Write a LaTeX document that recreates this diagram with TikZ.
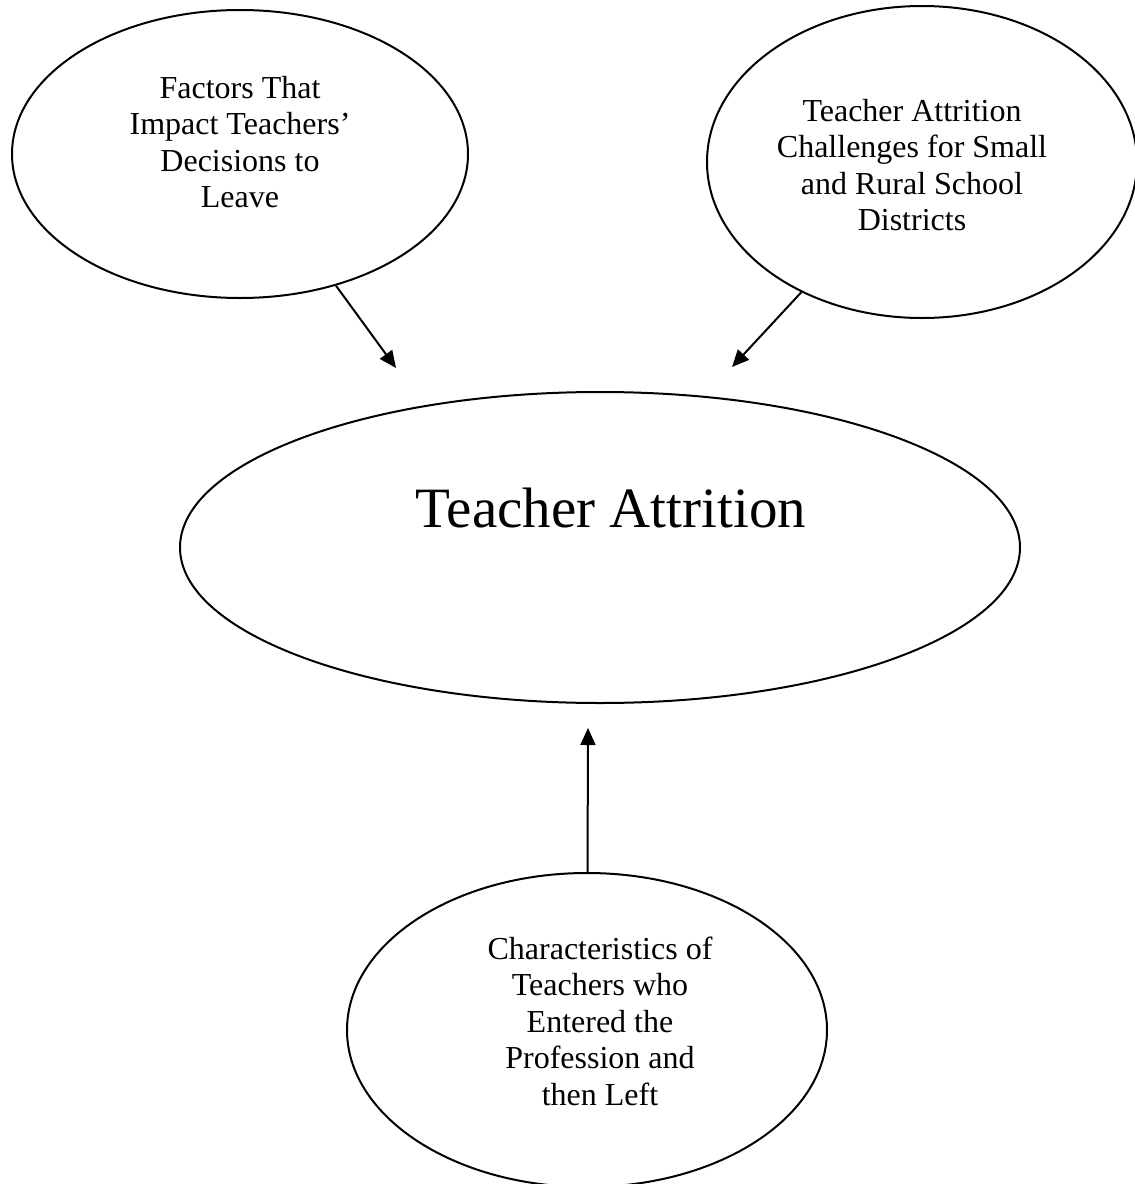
\documentclass[tikz,border=0pt]{standalone}
\usepackage{fontspec}
\setmainfont{Liberation Serif}
\usepackage{tikz}
\usetikzlibrary{positioning, arrows.meta, shapes.geometric}

\begin{document}
\begin{tikzpicture}[
  x=1pt, y=-1pt,
  bubble/.style={draw, ellipse, line width=2pt, inner sep=0pt},
  bubbletext/.style={align=center, inner sep=0pt, font=\fontsize{32}{36.5}\selectfont},
  arr/.style={-{Triangle[length=17pt, width=15pt]}, line width=2pt}
]
\useasboundingbox (0,0) rectangle (1135,1184);
\node[bubble, minimum width=456pt, minimum height=288pt] (factors) at (240,154) {};
\node[bubble, minimum width=430pt, minimum height=312pt] (rural) at (922,162) {};
\node[bubble, minimum width=840pt, minimum height=311pt] (attrition) at (600,547.5) {};
\node[bubble, minimum width=480pt, minimum height=314pt] (chars) at (587,1030) {};
\node[bubbletext] (factorstext) at (240,142) {Factors That\\Impact Teachers’\\Decisions to\\Leave};
\node[bubbletext] (ruraltext) at (912,165) {Teacher Attrition\\Challenges for Small\\and Rural School\\Districts};
\node[inner sep=0pt, anchor=base, font=\fontsize{57}{65}\selectfont] (attritiontext) at (611,527) {Teacher Attrition};
\node[bubbletext] (charstext) at (600,1021) {Characteristics of\\Teachers who\\Entered the\\Profession and\\then Left};
\coordinate (tipA) at (396,368);
\coordinate (tipB) at (732,367);
\coordinate (tipC) at (588,728);
\draw[arr] (factors) -- (tipA);
\draw[arr] (rural) -- (tipB);
\draw[arr] (chars) -- (tipC);
\end{tikzpicture}
\end{document}
